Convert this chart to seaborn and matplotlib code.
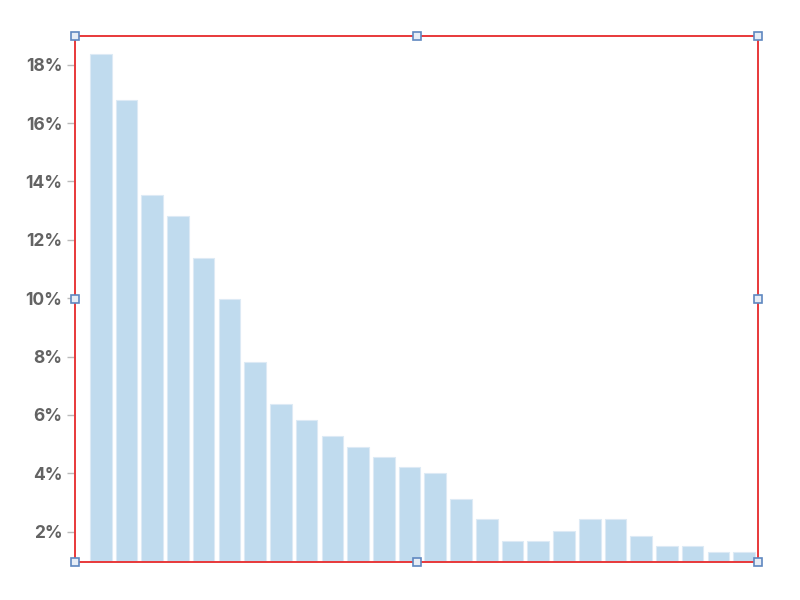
import matplotlib
matplotlib.use("Agg")
import matplotlib.pyplot as plt
import seaborn as sns
import pandas as pd

categories = [str(i) for i in range(1, 27)]
values = [18.38, 16.79, 13.55, 12.82, 11.39, 9.96, 7.81, 6.36, 5.81, 5.28,
          4.91, 4.55, 4.22, 4.01, 3.11, 2.42, 1.68, 1.68, 2.03, 2.42,
          2.42, 1.85, 1.52, 1.52, 1.31, 1.31]
yticks = [2, 4, 6, 8, 10, 12, 14, 16, 18]
ytick_labels = [f"{t}%" for t in yticks]

df = pd.DataFrame({"cat": categories, "val": values})

sns.set_theme(style="white")
plt.rcParams['font.family'] = ['Inter', 'DejaVu Sans']

fig = plt.figure(figsize=(8, 6), dpi=100)
ax = fig.add_axes([75 / 800, 1 - 562 / 600, 683 / 800, 526 / 600])

sns.barplot(data=df, x="cat", y="val", ax=ax, color="#c0dbee", saturation=1,
            width=0.84, edgecolor="#ddeaf5", linewidth=0.8)

ax.set_xlim(-1.0, 25.54)
ax.set_ylim(0.963, 18.98)
ax.set_yticks(yticks)
ax.set_yticklabels(ytick_labels)
ax.set_xticks([])
ax.set_xlabel("")
ax.set_ylabel("")
ax.tick_params(axis="y", left=True, length=6, width=1, color="#bbbbbb",
               labelsize=12.5, labelcolor="#636363", pad=3)
for lbl in ax.get_yticklabels():
    lbl.set_fontweight("bold")

for side in ["left", "right", "top", "bottom"]:
    ax.spines[side].set_visible(True)
    ax.spines[side].set_color("#e8383a")
    ax.spines[side].set_linewidth(1.4)

hx = [0, 0.5, 1, 0, 1, 0, 0.5, 1]
hy = [0, 0, 0, 0.5, 0.5, 1, 1, 1]
ax.plot(hx, hy, linestyle="none", marker="s", markersize=6,
        markerfacecolor="#e6edf6", markeredgecolor="#5f88c0",
        markeredgewidth=1.2, transform=ax.transAxes, clip_on=False, zorder=10)

fig.savefig("out.png", dpi=100)
